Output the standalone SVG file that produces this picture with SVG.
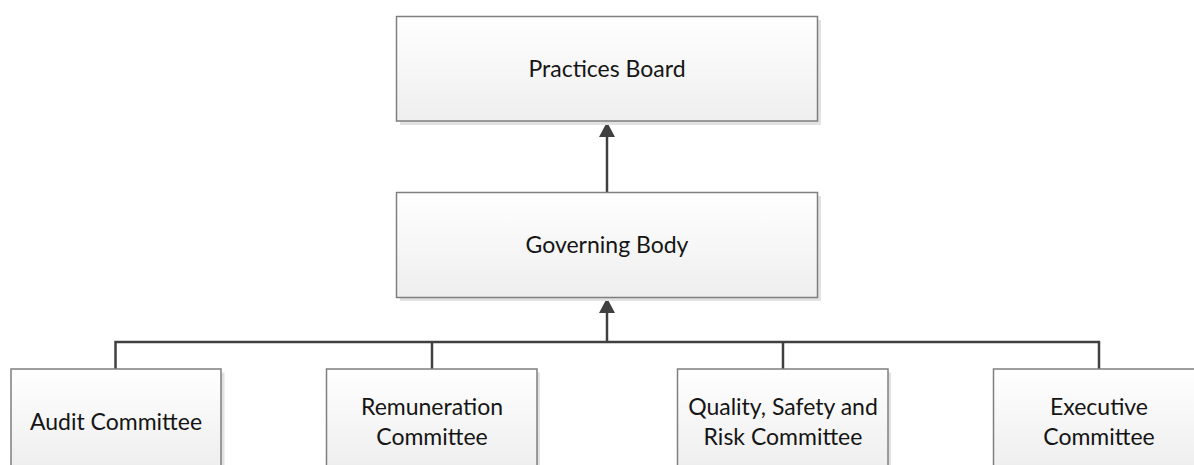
<svg xmlns="http://www.w3.org/2000/svg" width="1194" height="465" viewBox="0 0 1194 465">
  <defs>
    <linearGradient id="boxFill" x1="0" y1="0" x2="0" y2="1">
      <stop offset="0" stop-color="#ffffff"/>
      <stop offset="1" stop-color="#eeeeee"/>
    </linearGradient>
  </defs>
  <style>
    .shadow { fill: #e2e2e2; }
    .box { fill: url(#boxFill); stroke: #7f7f7f; stroke-width: 1.5; }
    .label { font-family: "Lato", "Liberation Sans", sans-serif; font-size: 23px; fill: #151515; text-anchor: middle; }
    .wire { fill: none; stroke: #404040; stroke-width: 2.5; }
    .head { fill: #404040; }
  </style>
  <rect width="1194" height="465" fill="#ffffff"/>

  <!-- connectors -->
  <g id="connectors">
    <path class="wire" d="M115.5,369 V342 H1099 V369"/>
    <path class="wire" d="M432,342 V369"/>
    <path class="wire" d="M783,342 V369"/>
    <path class="wire" d="M607,342 V312"/>
    <path class="head" d="M599,313 L607,298 L615,313 Z"/>
    <path class="wire" d="M607,192 V136"/>
    <path class="head" d="M599,137 L607,122 L615,137 Z"/>
  </g>

  <!-- top level -->
  <g id="practices-board">
    <rect class="shadow" x="400" y="20" width="421" height="105"/>
    <rect class="box" x="396.5" y="16.5" width="421" height="104.5"/>
    <text class="label" x="607" y="77">Practices Board</text>
  </g>

  <g id="governing-body">
    <rect class="shadow" x="400" y="196" width="421" height="105"/>
    <rect class="box" x="396.5" y="192.5" width="421" height="105"/>
    <text class="label" x="607" y="252.5">Governing Body</text>
  </g>

  <!-- committees -->
  <g id="audit-committee">
    <rect class="shadow" x="14.5" y="372.5" width="210" height="100"/>
    <rect class="box" x="11" y="369" width="210" height="100"/>
    <text class="label" x="116" y="430">Audit Committee</text>
  </g>

  <g id="remuneration-committee">
    <rect class="shadow" x="330" y="372.5" width="210" height="100"/>
    <rect class="box" x="326.5" y="369" width="210.5" height="100"/>
    <text class="label" x="432" y="415">Remuneration</text>
    <text class="label" x="432" y="445">Committee</text>
  </g>

  <g id="quality-safety-risk-committee">
    <rect class="shadow" x="681" y="372.5" width="210" height="100"/>
    <rect class="box" x="677.5" y="369" width="210.5" height="100"/>
    <text class="label" x="783" y="415">Quality, Safety and</text>
    <text class="label" x="783" y="445">Risk Committee</text>
  </g>

  <g id="executive-committee">
    <rect class="shadow" x="997" y="372.5" width="210" height="100"/>
    <rect class="box" x="993.5" y="369" width="210" height="100"/>
    <text class="label" x="1099" y="415">Executive</text>
    <text class="label" x="1099" y="445">Committee</text>
  </g>
</svg>
